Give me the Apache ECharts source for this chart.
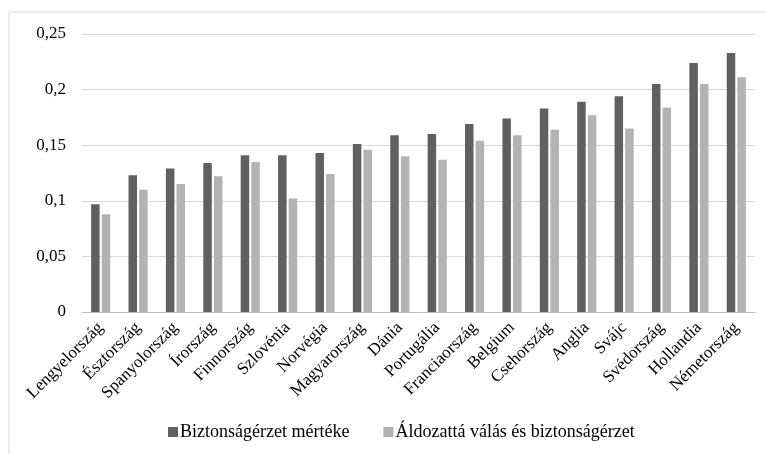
<!DOCTYPE html>
<html>
<head>
<meta charset="utf-8">
<script src="https://cdn.jsdelivr.net/npm/echarts@6/dist/echarts.min.js"></script>
<style>html,body{margin:0;padding:0;background:#fff}#c{width:765px;height:454px}</style>
</head>
<body>
<div id="c"></div>
<script>
var categories = ['Lengyelország','Észtország','Spanyolország','Írország','Finnország','Szlovénia','Norvégia','Magyarország','Dánia','Portugália','Franciaország','Belgium','Csehország','Anglia','Svájc','Svédország','Hollandia','Németország'];
var seriesNames = ['Biztonságérzet mértéke','Áldozattá válás és biztonságérzet'];
var safety = [0.097,0.123,0.129,0.134,0.141,0.141,0.143,0.151,0.159,0.160,0.169,0.174,0.183,0.189,0.194,0.205,0.224,0.233];
var victim = [0.088,0.110,0.115,0.122,0.135,0.102,0.124,0.146,0.140,0.137,0.154,0.159,0.164,0.177,0.165,0.184,0.205,0.211];

var font = '"Liberation Serif","Times New Roman",serif';
var chart = echarts.init(document.getElementById('c'));
chart.setOption({
  animation: false,
  backgroundColor: '#fff',
  graphic: [{
    type: 'rect', shape: {x: 9, y: 12, width: 800, height: 500},
    style: {fill: 'none', stroke: '#d9d9d9', lineWidth: 1}, z: -1
  }],
  grid: {left: 82, right: 10, top: 34, bottom: 142},
  legend: {
    data: seriesNames, bottom: 8, left: 163,
    itemWidth: 10, itemHeight: 10, itemGap: 34, icon: 'rect',
    textStyle: {fontFamily: font, fontSize: 18, color: '#000', padding: [0, 0, 0, -3]}
  },
  xAxis: {
    type: 'category', data: categories,
    axisLine: {lineStyle: {color: '#bfbfbf'}},
    axisTick: {show: false},
    axisLabel: {rotate: 45, interval: 0, fontFamily: font, fontSize: 17, color: '#000', margin: 13}
  },
  yAxis: {
    type: 'value', min: 0, max: 0.25, interval: 0.05,
    axisLine: {show: false}, axisTick: {show: false},
    splitLine: {lineStyle: {color: '#d9d9d9'}},
    axisLabel: {fontFamily: font, fontSize: 17, color: '#000', margin: 16,
      formatter: function(v){ return v === 0 ? '0' : String(+v.toFixed(2)).replace('.', ','); }}
  },
  series: [
    {name: seriesNames[0], type: 'bar', data: safety, barWidth: 8.5, barGap: '25%',
     itemStyle: {color: '#606060'}},
    {name: seriesNames[1], type: 'bar', data: victim, barWidth: 8.5,
     itemStyle: {color: '#b3b3b3'}}
  ]
});
</script>
</body>
</html>
